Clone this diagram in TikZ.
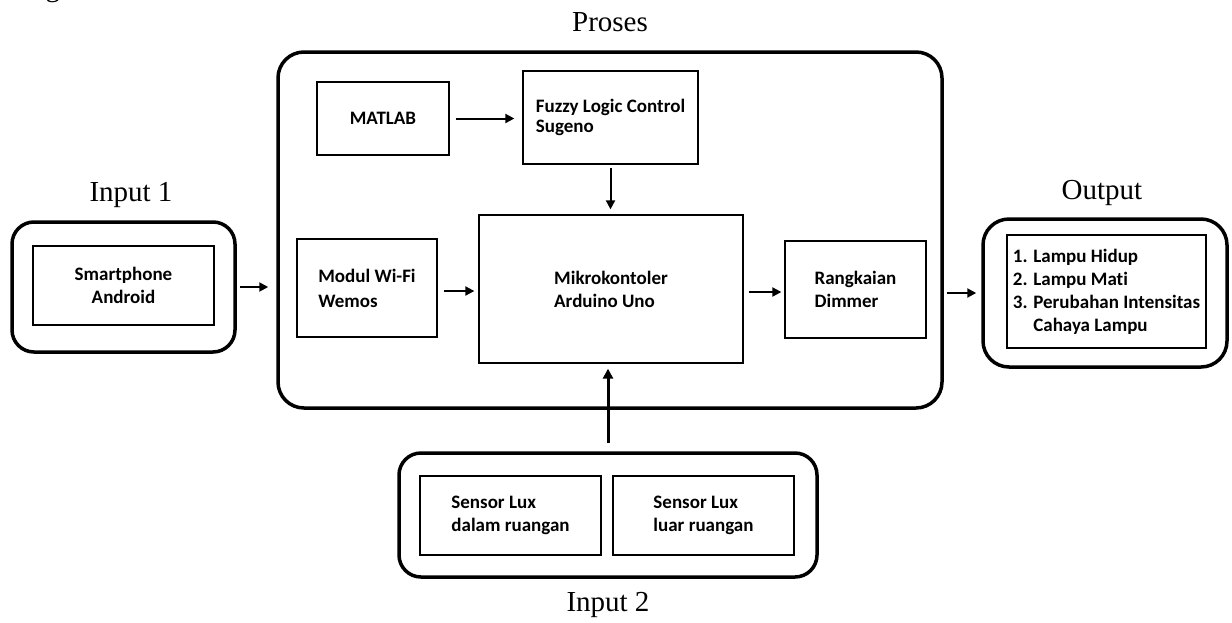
\documentclass[tikz,border=0pt]{standalone}
\usepackage{fontspec}
\setmainfont{Liberation Serif}
\newfontfamily\calfont[Ligatures=NoCommon]{Carlito}
\usetikzlibrary{arrows.meta,calc}
\begin{document}
\begin{tikzpicture}[x=1pt,y=-1pt,
  box/.style={draw,line width=1.3pt,inner sep=0pt,font=\calfont\bfseries\fontsize{19}{23}\selectfont,align=left},
  cont/.style={draw,line width=3.5pt,rounded corners=22pt,inner sep=0pt},
  title/.style={font=\fontsize{29}{34}\selectfont,inner sep=0pt},
  arr/.style={line width=2pt,-{Triangle[length=9pt,width=9pt]}}]
\useasboundingbox (0,0) rectangle (1232,622);

% top cut-off text (only its lower edge shows in the reference)
\node[title,anchor=base west] (top) at (10,-4) {diagram dibawah ini.};

% titles
\node[title] (tproses) at (610,22) {Proses};
\node[title] (tin1) at (131,195) {Input 1};
\node[title] (tout) at (1102,193) {Output};
\node[title] (tin2) at (608,605) {Input 2};

% containers
\node[cont,minimum width=223,minimum height=130] (in1) at (123.5,287) {};
\node[cont,rounded corners=26pt,minimum width=664,minimum height=356] (proses) at (610,230) {};
\node[cont,rounded corners=26pt,minimum width=244,minimum height=148] (out) at (1105,293) {};
\node[cont,minimum width=418,minimum height=124] (in2) at (608,515) {};

% inner boxes
\node[box,align=center,minimum width=181,minimum height=79] (sp) at (123.5,285.5) {Smartphone\\Android};
\node[box,minimum width=132,minimum height=73] (matlab) at (383,118.5) {MATLAB};
\node[box,minimum width=175,minimum height=93,font=\calfont\bfseries\fontsize{19}{20}\selectfont] (fuzzy) at (610.5,117.5) {Fuzzy Logic Control\\Sugeno};
\node[box,minimum width=140,minimum height=98,font=\calfont\bfseries\fontsize{19}{25}\selectfont] (wemos) at (367,288) {Modul Wi-Fi\\Wemos};
\node[box,minimum width=264,minimum height=148] (mikro) at (611,289) {Mikrokontoler\\Arduino Uno};
\node[box,minimum width=141,minimum height=97] (dimmer) at (855.5,289.5) {Rangkaian\\Dimmer};
\node[box,minimum width=199,minimum height=113] (outbox) at (1106.5,291.5) {1. Lampu Hidup\\2. Lampu Mati\\3. Perubahan Intensitas\\\phantom{3. }Cahaya Lampu};
\node[box,minimum width=181,minimum height=79] (s1) at (510.5,515.5) {Sensor Lux\\dalam ruangan};
\node[box,minimum width=181,minimum height=79] (s2) at (703.5,515.5) {Sensor Lux\\luar ruangan};

% connectors
\draw[arr,shorten <=3pt,shorten >=8pt] (in1.east) -- (in1.east -| proses.west);
\draw[arr,shorten <=6pt,shorten >=8pt] (matlab.east) -- (matlab.east -| fuzzy.west);
\draw[arr,shorten <=3pt,shorten >=5pt] (fuzzy.south) -- (fuzzy.south |- mikro.north);
\draw[arr,shorten <=6pt,shorten >=4pt] ([yshift=-3pt]wemos.east) -- ([yshift=-3pt]wemos.east -| mikro.west);
\draw[arr,shorten <=5pt,shorten >=3pt] ([yshift=-3pt]mikro.east) -- ([yshift=-3pt]mikro.east -| dimmer.west);
\draw[arr,shorten <=3pt,shorten >=5pt] (out.west -| proses.east) -- (out.west);
\draw[line width=3pt,-{Triangle[length=10pt,width=10pt]},shorten <=8pt,shorten >=5pt] (in2.north) -- (in2.north |- mikro.south);
\end{tikzpicture}
\end{document}
